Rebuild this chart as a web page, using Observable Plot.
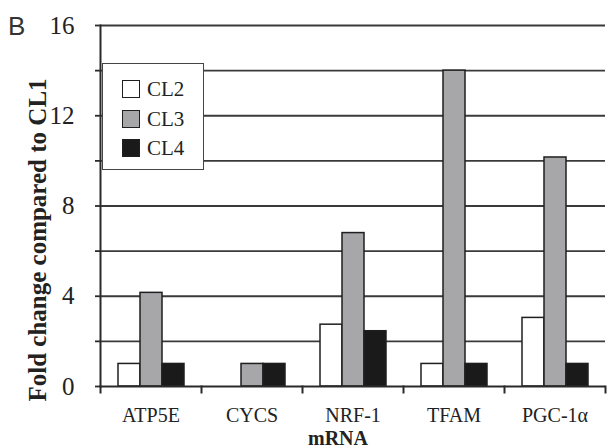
<!DOCTYPE html>
<html>
<head>
<meta charset="utf-8">
<script src="https://cdn.jsdelivr.net/npm/d3@7"></script>
<script src="https://cdn.jsdelivr.net/npm/@observablehq/plot@0.6"></script>
<style>
  html, body { margin: 0; padding: 0; background: #fff; }
  #wrap { position: relative; width: 608px; height: 448px; overflow: hidden; font-family: "Liberation Serif", serif; color: #222; }
  #wrap svg { position: absolute; left: 0; top: 0; }
  .lbl { position: absolute; white-space: nowrap; line-height: 1; }
  #panel { left: 8px; top: 13px; font-family: "Liberation Sans", Arial, sans-serif; font-size: 26px; color: #333; }
  #ytitle { left: 37px; top: 240px; font-weight: bold; font-size: 25px; transform: translate(-50%, -50%) rotate(-90deg); }
  #xtitle { left: 338px; top: 428px; font-weight: bold; font-size: 20px; transform: translateX(-50%); }
  #legend { position: absolute; left: 102px; top: 63px; width: 100px; height: 105px; border: 1.5px solid #444; background: #fff; box-sizing: content-box; }
  .item { position: absolute; left: 19px; height: 19px; font-size: 21px; line-height: 19px; }
  .sw { position: absolute; left: 0; top: 0; width: 16px; height: 16px; border: 1.5px solid #1f1f1f; }
  .item span.t { position: absolute; left: 25px; top: 0; }
</style>
</head>
<body>
<div id="wrap"></div>
<script>
const categories = ["ATP5E", "CYCS", "NRF-1", "TFAM", "PGC-1α"];
const series = ["CL2", "CL3", "CL4"];
const cl2 = [1.0, 0, 2.74, 1.0, 3.04];
const cl3 = [4.15, 1.0, 6.8, 14.0, 10.15];
const cl4 = [1.0, 1.0, 2.45, 1.0, 1.0];
const seriesColors = ["#ffffff", "#a7a7aa", "#1a1a1a"];
const yTicks = [0, 2, 4, 6, 8, 10, 12, 14, 16];
const yLabels = [0, 4, 8, 12, 16];
const gridValues = [2, 4, 6, 8, 10, 12, 14, 16];

const values = {CL2: cl2, CL3: cl3, CL4: cl4};
const table = [];
categories.forEach((c, i) => series.forEach(s => table.push({mRNA: c, series: s, value: values[s][i]})));

const chart = Plot.plot({
  width: 608,
  height: 448,
  marginTop: 25,
  marginBottom: 62,
  marginLeft: 98,
  marginRight: 1,
  style: "font-family: 'Liberation Serif', serif; background: transparent; color: #222;",
  fx: {domain: categories, padding: 0, paddingInner: 0, paddingOuter: 0, label: null},
  x: {domain: series, paddingInner: 0, paddingOuter: 0.74, axis: null},
  y: {domain: [0, 16], label: null},
  color: {domain: series, range: seriesColors},
  marks: [
    Plot.ruleY(gridValues, {stroke: "#3a3a3a", strokeWidth: 1.8}),
    Plot.barY(table, {fx: "mRNA", x: "series", y: "value", fill: "series", stroke: "#1f1f1f", strokeWidth: 1.5}),
    Plot.ruleY([0], {stroke: "#2a2a2a", strokeWidth: 2}),
    Plot.frame({anchor: "left", facetAnchor: "left", stroke: "#2a2a2a", strokeWidth: 2}),
    Plot.frame({anchor: "left", insetTop: 361, insetBottom: -6, stroke: "#2a2a2a", strokeWidth: 2}),
    Plot.frame({anchor: "right", facetAnchor: "right", insetTop: 361, insetBottom: -6, stroke: "#2a2a2a", strokeWidth: 2}),
    Plot.axisY({ticks: yTicks, tickSize: 5, tickPadding: 21, fontSize: 25, stroke: "#2a2a2a", strokeWidth: 1.8, label: null,
      tickFormat: d => yLabels.includes(d) ? String(d) : ""}),
    Plot.axisFx({anchor: "bottom", tickSize: 0, tickPadding: 21, fontSize: 20, label: null})
  ]
});

const wrap = document.getElementById("wrap");
wrap.appendChild(chart);

// force serif typography on the SVG texts
const svgSel = d3.select(chart.tagName.toLowerCase() === "svg" ? chart : chart.querySelector("svg"));
svgSel.selectAll("text").style("font-family", "'Liberation Serif', serif").style("fill", "#222");
svgSel.selectAll("g[aria-label='y-axis tick label'] text").style("font-size", "25px");
svgSel.selectAll("g[aria-label='fx-axis tick label'] text").style("font-size", "20px");

function addLabel(id, text) {
  const d = document.createElement("div");
  d.className = "lbl"; d.id = id; d.textContent = text;
  wrap.appendChild(d);
}
addLabel("panel", "B");
addLabel("ytitle", "Fold change compared to CL1");
addLabel("xtitle", "mRNA");

const legend = document.createElement("div");
legend.id = "legend";
series.forEach((s, i) => {
  const item = document.createElement("div");
  item.className = "item";
  item.style.top = (16 + i * 29.5) + "px";
  const sw = document.createElement("div");
  sw.className = "sw";
  sw.style.background = seriesColors[i];
  const t = document.createElement("span");
  t.className = "t"; t.textContent = s;
  item.appendChild(sw); item.appendChild(t);
  legend.appendChild(item);
});
wrap.appendChild(legend);
</script>
</body>
</html>
